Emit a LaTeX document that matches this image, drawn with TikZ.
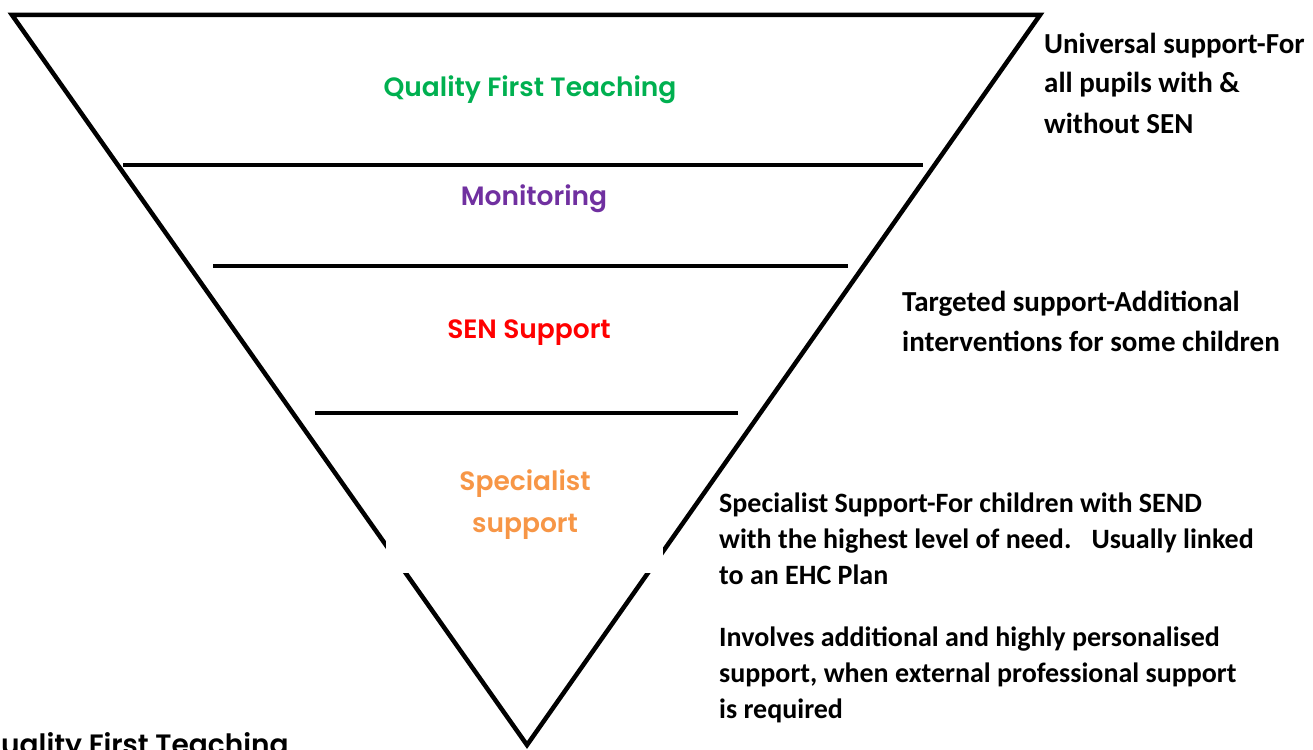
\documentclass[tikz,border=0pt]{standalone}
\usepackage{fontspec}
\newfontfamily\gothic{Poppins}[BoldFont={Poppins SemiBold}]
\newfontfamily\calibri{Carlito}
\definecolor{qftgreen}{RGB}{0,176,80}
\definecolor{monpurple}{RGB}{112,48,160}
\definecolor{senred}{RGB}{255,0,0}
\definecolor{specorange}{RGB}{247,150,70}

\begin{document}
\begin{tikzpicture}[x=1pt,y=-1pt]
\tikzstyle{every node}+=[inner sep=0pt]
\tikzstyle{tier}=[font=\gothic\bfseries\fontsize{26.5}{42}\selectfont, align=center, anchor=base]
\tikzstyle{note}=[font=\calibri\bfseries\fontsize{29}{40}\selectfont, align=left, anchor=base west]
\tikzstyle{longnote}=[note, font=\calibri\bfseries\fontsize{28}{36}\selectfont]
\useasboundingbox (0,0) rectangle (1313,749);
% funnel outline
\draw [black, line width=4.5pt, line join=miter] (12,15) -- (1040,15) -- (527,745) -- cycle;
% dividers between the tiers
\draw [black, line width=4.5pt] (123,165) -- (923,165);
\draw [black, line width=4.5pt] (213,266) -- (848,266);
\draw [black, line width=4.5pt] (315,413) -- (738,413);
% text box of the lowest tier hides part of the sides
\fill [white] (386,430) rectangle (663,573);
% tier labels (base = last line)
\node [tier, text=qftgreen] (qft) at (530,97) {Quality First Teaching};
\node [tier, text=monpurple] (mon) at (534,205) {Monitoring};
\node [tier, text=senred] (sen) at (529,338) {SEN Support};
\node [tier, text=specorange] (spec) at (525,532) {Specialist\\support};
% notes on the right
\node [note] (universal) at (1044,133) {Universal support-For\\all pupils with \&\\without SEN};
\node [note] (targeted) at (902,351) {Targeted support-Additional\\interventions for some children};
\node [longnote] (specialist) at (719,584)
  {Specialist Support-For children with SEND\\with the highest level of need.\hspace{20pt}Usually linked\\to an EHC Plan};
\node [longnote] (involves) at (719,718)
  {Involves additional and highly personalised\\support, when external professional support\\is required};
% heading cut by the lower edge
\node [tier, anchor=base west, text=black, font=\gothic\bfseries\fontsize{28}{42}\selectfont] (heading) at (-21,754) {Quality First Teaching};
\end{tikzpicture}
\end{document}
